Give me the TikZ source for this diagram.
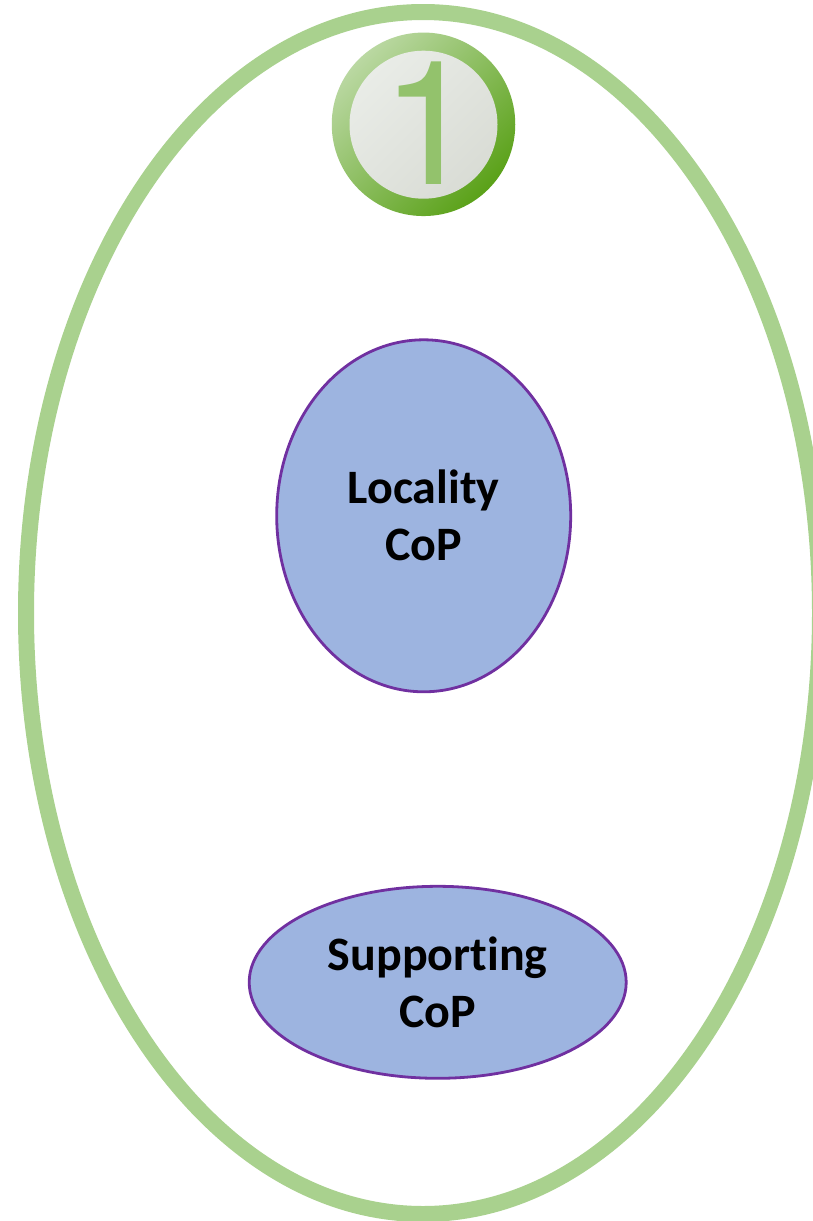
\documentclass[tikz,border=0pt]{standalone}
\usepackage{fontspec}
\usetikzlibrary{shapes.geometric}
\setmainfont[Ligatures=NoCommon]{Carlito}
\newfontfamily\digitfont{TeX Gyre Heros}
\definecolor{ringgreen}{HTML}{A9D18E}
\definecolor{copfill}{HTML}{9DB4E0}
\definecolor{coppurple}{HTML}{7030A0}
\definecolor{badgelight}{HTML}{BAD8A2}
\definecolor{badgedark}{HTML}{5AA118}
\definecolor{facelight}{HTML}{E9ECE7}
\definecolor{facedark}{HTML}{D9DCD5}
\definecolor{digitgreen}{HTML}{93C26C}
\tikzset{
  x=1pt,y=-1pt,
  outerring/.style={ellipse,draw=ringgreen,line width=16pt,fill=white,minimum width=794pt,minimum height=1202pt,inner sep=0pt,outer sep=0pt},
  cop/.style={ellipse,draw=coppurple,line width=2.8pt,fill=copfill,inner sep=0pt,outer sep=0pt,align=center,
    font=\fontsize{48}{57}\selectfont\bfseries,text=black},
  badgering/.style={circle,inner sep=0pt,outer sep=0pt,minimum size=183.5pt,top color=badgelight,bottom color=badgedark,shading angle=45},
  badgeface/.style={circle,inner sep=0pt,outer sep=0pt,minimum size=148pt,top color=facelight,bottom color=facedark,shading angle=45},
}
\begin{document}
\begin{tikzpicture}
\useasboundingbox (0,0) rectangle (813,1221);
\clip (0,0) rectangle (813,1221);
\node[outerring] (outer) at (423,613) {};
\node[badgering] (badge) at (423.5,124.3) {};
\node[badgeface] (face) at (423.5,124.7) {};
\node[anchor=base west,inner sep=0pt,outer sep=0pt,text=digitgreen,font=\fontsize{173}{173}\selectfont\digitfont] (digit) at (381,184.3) {1};
\node[cop,minimum width=294pt,minimum height=352pt] (locality) at (423.7,515.8) {Locality\\CoP};
\node[cop,minimum width=377pt,minimum height=192pt] (supporting) at (437.7,982.3) {Supporting\\CoP};
\end{tikzpicture}
\end{document}
